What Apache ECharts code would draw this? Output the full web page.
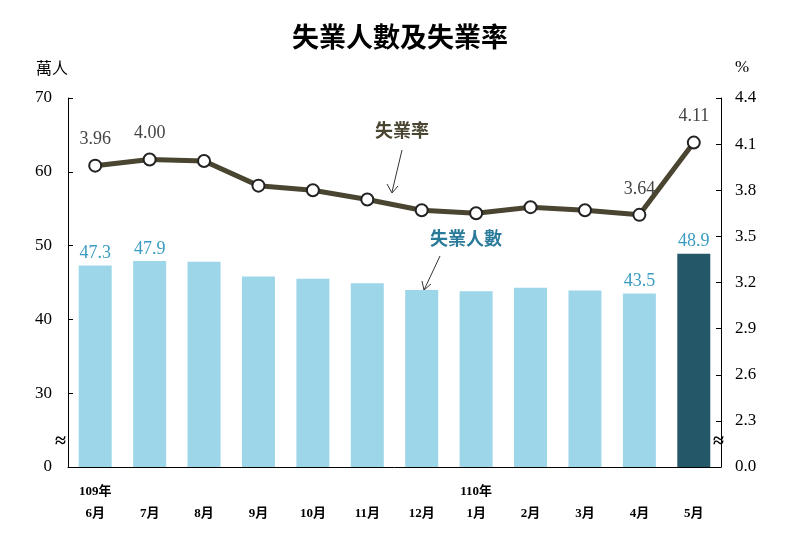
<!DOCTYPE html><html><head><meta charset="utf-8">
<script src="https://cdn.jsdelivr.net/npm/echarts@6/dist/echarts.min.js"></script>
<style>html,body{margin:0;background:#fff}#c{width:800px;height:538px}</style></head><body><div id="c"></div>
<script>
const categories=['109年\n6月','7月','8月','9月','10月','11月','12月','110年\n1月','2月','3月','4月','5月'];
const unemployed=[47.3,47.9,47.8,45.8,45.5,44.9,44.0,43.8,44.3,43.9,43.5,48.9];
const rate=[3.96,4.00,3.99,3.83,3.80,3.74,3.67,3.65,3.69,3.67,3.64,4.11];
const labeled=[0,1,10,11];
const leftTicks={20:'0',30:'30',40:'40',50:'50',60:'60',70:'70'};
const f='"Liberation Serif","Noto Sans CJK TC",serif';
const chart=echarts.init(document.getElementById('c'));
chart.setOption({
 animation:false,
 title:{text:'失業人數及失業率',left:'center',top:18,textStyle:{fontFamily:'"Noto Sans CJK TC"',fontSize:27,fontWeight:'bold',color:'#000'}},
 grid:{left:68,right:79,top:98,bottom:71},
 xAxis:{type:'category',data:categories,axisTick:{show:false},axisLine:{lineStyle:{color:'#000'}},
  axisLabel:{color:'#000',fontFamily:f,fontSize:13,fontWeight:'bold',lineHeight:22,margin:14,formatter:v=>v.includes('\n')?v:'\n'+v}},
 yAxis:[{type:'value',min:20,max:70,interval:10,splitLine:{show:false},axisLine:{show:true,lineStyle:{color:'#000'}},axisTick:{show:true,inside:true,lineStyle:{color:'#000'}},
   axisLabel:{color:'#000',fontFamily:f,fontSize:17,margin:16,formatter:v=>leftTicks[v]||''},name:'萬人',nameLocation:'end',nameGap:22,nameTextStyle:{fontFamily:'"Noto Sans CJK TC"',fontSize:16,color:'#000',align:'right'}},
  {type:'value',min:2.0,max:4.4,interval:0.3,splitLine:{show:false},axisLine:{show:true,lineStyle:{color:'#000'}},axisTick:{show:true,inside:true,lineStyle:{color:'#000'}},
   axisLabel:{color:'#000',fontFamily:f,fontSize:17,margin:14,formatter:v=>Math.abs(v-2)<1e-6?'0.0':v.toFixed(1)},name:'%',nameLocation:'end',nameGap:22,nameTextStyle:{fontFamily:f,fontSize:17,color:'#000',align:'left',padding:[0,0,0,14]}}],
 series:[
  {type:'bar',data:unemployed.map((v,i)=>({value:v,itemStyle:{color:i===11?'#245868':'#9dd6e8'},label:{show:labeled.includes(i)}})),barWidth:33,
   label:{position:'top',distance:3,color:'#3a9cc0',fontFamily:f,fontSize:18}},
  {type:'line',yAxisIndex:1,data:rate.map((v,i)=>({value:v,label:{show:labeled.includes(i)}})),symbol:'circle',symbolSize:12,
   lineStyle:{color:'#4a4530',width:5},itemStyle:{color:'#fff',borderColor:'#222',borderWidth:2},
   label:{position:'top',distance:10,color:'#444',fontFamily:f,fontSize:18,formatter:p=>p.value.toFixed(2)}}
 ],
 graphic:[
  {type:'text',left:375,top:121,style:{text:'失業率',font:'bold 18px "Noto Sans CJK TC"',fill:'#4a4530'}},
  {type:'line',shape:{x1:402,y1:150,x2:392,y2:192},style:{stroke:'#333',lineWidth:1}},
  {type:'polyline',shape:{points:[[387,184],[392,193],[398,186]]},style:{stroke:'#333',fill:null,lineWidth:1}},
  {type:'text',left:430,top:229,style:{text:'失業人數',font:'bold 18px "Noto Sans CJK TC"',fill:'#2a7a9a'}},
  {type:'line',shape:{x1:440,y1:256,x2:424,y2:290},style:{stroke:'#333',lineWidth:1}},
  {type:'polyline',shape:{points:[[422,281],[424,290],[431,284]]},style:{stroke:'#333',fill:null,lineWidth:1}},
  {type:'text',left:55,top:432,style:{text:'≈',font:'bold 20px serif',fill:'#000'}},
  {type:'text',left:713,top:432,style:{text:'≈',font:'bold 20px serif',fill:'#000'}}
 ]
});
</script></body></html>
